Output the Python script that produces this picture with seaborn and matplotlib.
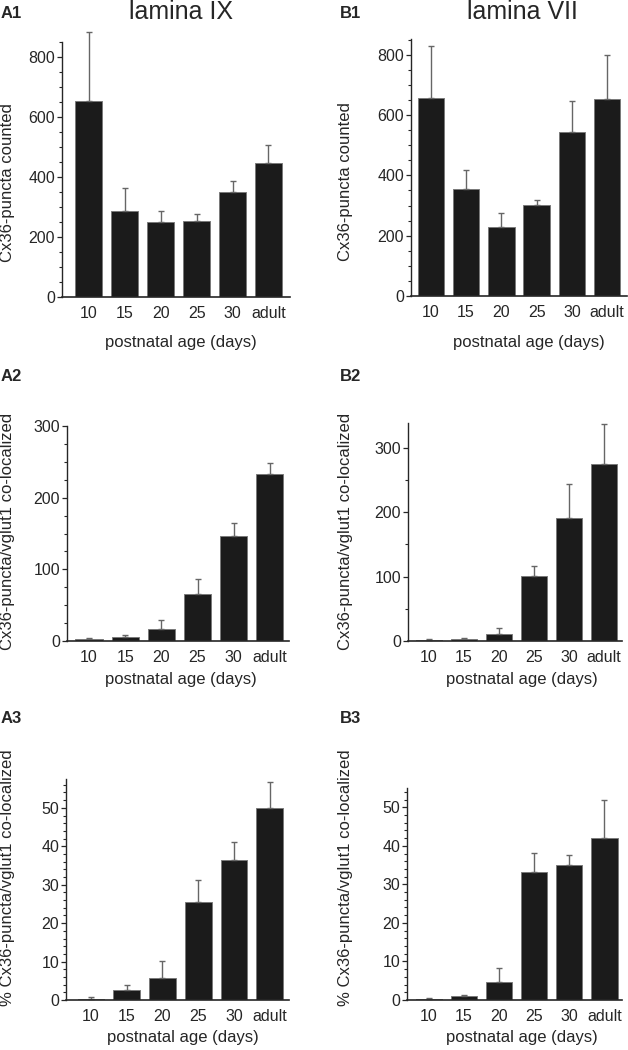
import numpy as np
import pandas as pd
import matplotlib
matplotlib.use('Agg')
import matplotlib.pyplot as plt
from matplotlib.ticker import MultipleLocator
import seaborn as sns

# dados (média e erro superior)
ages = ['10', '15', '20', '25', '30', 'adult']

a1_mean = [654, 287, 251, 255, 350, 447]
a1_sem = [230, 76, 37, 21, 38, 59]
b1_mean = [657, 354, 229, 303, 545, 654]
b1_sem = [171, 64, 45, 16, 102, 146]

a2_mean = [3.0, 6.0, 16.3, 66, 146.5, 233.5]
a2_sem = [1.5, 2.4, 13.0, 20, 17.5, 15.5]
b2_mean = [2.0, 3.6, 10.9, 101.4, 191, 273.7]
b2_sem = [1.0, 1.1, 9.1, 15, 52, 63.3]

a3_mean = [0.35, 2.7, 5.8, 25.6, 36.5, 50.0]
a3_sem = [0.45, 1.3, 4.4, 5.6, 4.7, 6.7]
b3_mean = [0.35, 1.1, 4.6, 33.1, 35.0, 42.1]
b3_sem = [0.15, 0.2, 3.8, 5.1, 2.7, 9.7]

sns.set_style('ticks')
plt.rcParams['font.family'] = ['Liberation Sans', 'DejaVu Sans']

W, H = 628, 1050
fig = plt.figure(figsize=(W / 100, H / 100), dpi=100)


def px_axes(left, right, top, bottom):
    return fig.add_axes([left / W, 1 - bottom / H, (right - left) / W, (bottom - top) / H])


panels = [
    # (média, erro, rótulo y, ylim, major, minor, xlim, caixa px, pos. ylabel, pos. xlabel)
    (a1_mean, a1_sem, 'Cx36-puncta counted', 850, 200, 50, (-0.75, 5.6),
     (62, 290, 42, 297), (15, 183), (181, 335)),
    (b1_mean, b1_sem, 'Cx36-puncta counted', 852, 200, 50, (-0.56, 5.56),
     (411, 627, 39, 296), (353, 182), (529, 335)),
    (a2_mean, a2_sem, 'Cx36-puncta/vglut1 co-localized', 300, 100, 25, (-0.61, 5.53),
     (67, 289, 426, 641), (15, 531), (181, 672)),
    (b2_mean, b2_sem, 'Cx36-puncta/vglut1 co-localized', 338, 100, 50, (-0.59, 5.51),
     (408, 622, 423, 641), (353, 531), (522, 672)),
    (a3_mean, a3_sem, '% Cx36-puncta/vglut1 co-localized', 57.5, 10, 2, (-0.7, 5.54),
     (66, 289, 779, 1000), (15, 878), (183, 1030)),
    (b3_mean, b3_sem, '% Cx36-puncta/vglut1 co-localized', 55, 10, 2, (-0.62, 5.5),
     (407, 622, 788, 1000), (353, 878), (522, 1030)),
]

for mean, sem, ylab, ytop, major, minor, xlim, box, ylpos, xlpos in panels:
    ax = px_axes(*box)
    df = pd.DataFrame({'age': ages, 'value': mean})
    sns.barplot(data=df, x='age', y='value', ax=ax, color='#1b1b1b',
                saturation=1, width=0.75, edgecolor='#7a7a7a', linewidth=0.7)
    x = np.arange(len(ages))
    ax.errorbar(x, mean, yerr=[np.zeros(len(sem)), sem], fmt='none',
                ecolor='#666666', elinewidth=1.0, capsize=2.5, capthick=1.0,
                zorder=1, clip_on=False)
    ax.set_ylim(0, ytop)
    ax.set_xlim(*xlim)
    ax.yaxis.set_major_locator(MultipleLocator(major))
    ax.yaxis.set_minor_locator(MultipleLocator(minor))
    ax.tick_params(axis='y', which='major', length=3.5, width=0.9, labelsize=11.5, pad=1.5)
    ax.tick_params(axis='y', which='minor', length=2, width=0.8)
    ax.tick_params(axis='x', length=0, labelsize=11.5, pad=6.5)
    sns.despine(ax=ax)
    ax.spines['left'].set_linewidth(1.0)
    ax.spines['bottom'].set_linewidth(1.2)
    ax.set_ylabel(ylab, fontsize=12)
    ax.yaxis.set_label_coords(ylpos[0] / W, 1 - ylpos[1] / H, transform=fig.transFigure)
    ax.set_xlabel('postnatal age (days)', fontsize=12)
    ax.xaxis.set_label_coords(xlpos[0] / W, 1 - xlpos[1] / H, transform=fig.transFigure)

# títulos das colunas e letras dos painéis
fig.text(181 / W, 1 - 19 / H, 'lamina IX', fontsize=18, ha='center', va='baseline')
fig.text(522 / W, 1 - 19 / H, 'lamina VII', fontsize=18, ha='center', va='baseline')
for label, xp, yp in [('A1', 1, 18), ('B1', 340, 18), ('A2', 1, 381), ('B2', 340, 381),
                      ('A3', 1, 723), ('B3', 340, 723)]:
    fig.text(xp / W, 1 - yp / H, label, fontsize=12, fontweight='bold', ha='left', va='baseline')

fig.savefig('out.png', dpi=100)
